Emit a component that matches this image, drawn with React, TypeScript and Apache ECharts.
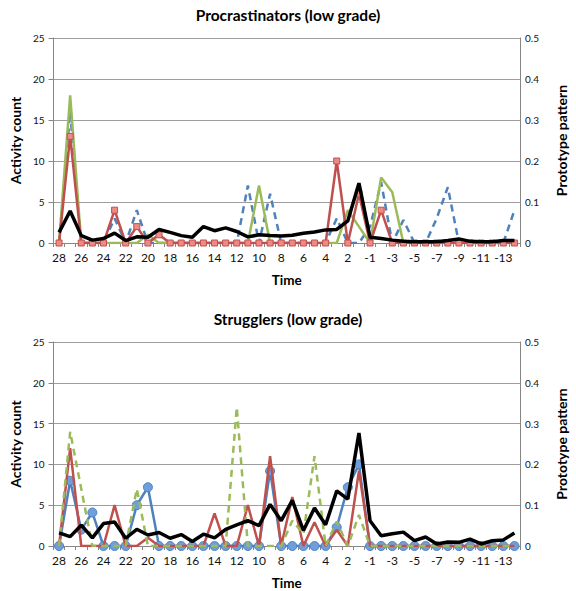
import React, { useEffect, useRef } from "react";
import * as echarts from "echarts";

const categories: string[] = [
  "28","27","26","25","24","23","22","21","20","19","18","17","16","15",
  "14","13","12","11","10","9","8","7","6","5","4","3","2","1",
  "-1","-2","-3","-4","-5","-6","-7","-8","-9","-10","-11","-12","-13","-14",
];

// Procrastinators (low grade)
const procRed = [0,13,0,0,0,4,0,2,0,1, 0,0,0,0,0,0,0,0,0,0, 0,0,0,0,0,10,0,6,0,4, 0,0,0,0,0,0,0,0,0,0, 0,0];
const procBlue = [0,16,0,0,0,3,0,4,0,0, 0,0,0,0,0,0,0,7,0,6, 0,0,0,0,0,3,0,0,2,7.4, 0,2.8,0,0,3,6.8,0,0,0,0, 0,4];
const procGreen = [0,18,0,0,0,0,0,0,1,0, 0,0,0,0,0,0,0,0,7,0, 0,0,0,0,0,0,4,2,0,8, 6.2,0,0,0,0,0,0,0,0,0, 0,0];
const procProto = [0.026,0.078,0.018,0.007,0.011,0.024,0.006,0.015,0.014,0.033, 0.026,0.018,0.014,0.040,0.030,0.037,0.028,0.015,0.020,0.018, 0.017,0.019,0.024,0.027,0.032,0.033,0.054,0.146,0.014,0.011, 0.007,0.004,0.003,0.003,0.003,0.006,0.010,0.004,0.003,0.003, 0.006,0.006];

// Strugglers (low grade)
const strugBlue = [0,8,2,4.1,0,0,0,5,7.2,0, 0,0,0,0,0,0,0,0,0,9.2, 0,0,0,0,0,2.3,7.2,10,0,0, 0,0,0,0,0,0,0,0,0,0, 0,0];
const strugRed = [0,12,0,0,0,5,0,0,1,0, 0,0,0,0,4,0,0,5,0,11, 0,6,0,2.9,0,2,0,9.2,0,0, 0,0,0,0,0,0,0,0,0,0, 0,0];
const strugGreen = [0,14,7,0,0,0,0,7,0,0, 0,0,0,0,0,0,17,0,0,0, 0,3.1,1.5,11,0,3,0,3.8,0,0, 0,0,0,0,0,0,0,0,0,0, 0,0];
const strugProto = [0.032,0.023,0.051,0.020,0.055,0.059,0.019,0.041,0.027,0.033, 0.019,0.028,0.011,0.029,0.020,0.041,0.052,0.062,0.050,0.102, 0.062,0.112,0.038,0.093,0.052,0.135,0.115,0.277,0.062,0.025, 0.030,0.034,0.013,0.022,0.005,0.010,0.009,0.017,0.005,0.013, 0.015,0.032];

const titles = ["Procrastinators (low grade)", "Strugglers (low grade)"];
const leftTicks = { min: 0, max: 25, interval: 5 };
const rightTicks = { min: 0, max: 0.5, interval: 0.1 };

const FONT = "Lato";
const RED = "#C0504D";
const BLUE = "#4F81BD";
const GREEN = "#9BBB59";
const GRID_TOPS = [38, 342];

export default function App() {
  const ref = useRef<HTMLDivElement>(null);
  useEffect(() => {
    if (!ref.current) return;
    const chart = echarts.init(ref.current, undefined, { renderer: "svg" });
    const axisLineGray = "#868686";
    const xAxes = [0, 1].map((g) => ({
      gridIndex: g,
      type: "category",
      data: categories,
      boundaryGap: true,
      axisLine: { show: true, lineStyle: { color: axisLineGray, width: 1 } },
      axisTick: { show: true, interval: 0, length: 4, lineStyle: { color: axisLineGray } },
      axisLabel: { interval: 1, fontFamily: FONT, fontSize: 12, color: "#111", margin: 8 },
      name: "Time",
      nameLocation: "middle",
      nameGap: 30,
      nameTextStyle: { fontFamily: FONT, fontSize: 13.5, fontWeight: "bold", color: "#000" },
    }));
    const yAxes: any[] = [];
    [0, 1].forEach((g) => {
      yAxes.push({
        gridIndex: g,
        type: "value",
        position: "left",
        ...leftTicks,
        axisLine: { show: true, lineStyle: { color: axisLineGray } },
        axisTick: { show: true, length: 5, lineStyle: { color: axisLineGray } },
        splitLine: { show: true, lineStyle: { color: "#9E9E9E", width: 1 } },
        axisLabel: { fontFamily: FONT, fontSize: 10, color: "#111", margin: 9 },
        name: "Activity count",
        nameLocation: "middle",
        nameRotate: 90,
        nameGap: 31,
        nameTextStyle: { fontFamily: FONT, fontSize: 14, fontWeight: "bold", color: "#000" },
      });
      yAxes.push({
        gridIndex: g,
        type: "value",
        position: "right",
        ...rightTicks,
        axisLine: { show: true, lineStyle: { color: axisLineGray } },
        axisTick: { show: false },
        splitLine: { show: false },
        axisLabel: { fontFamily: FONT, fontSize: 10, color: "#111", margin: 5 },
        name: "Prototype pattern",
        nameLocation: "middle",
        nameRotate: 90,
        nameGap: 34,
        nameTextStyle: { fontFamily: FONT, fontSize: 14, fontWeight: "bold", color: "#000" },
      });
    });

    const dashed = [7, 5];
    const series: any[] = [
      // Procrastinators
      {
        type: "line", xAxisIndex: 0, yAxisIndex: 0, data: procBlue, symbol: "none",
        lineStyle: { color: BLUE, width: 2.5, type: dashed }, z: 2,
      },
      {
        type: "line", xAxisIndex: 0, yAxisIndex: 0, data: procGreen, symbol: "none",
        lineStyle: { color: GREEN, width: 2.5 }, z: 3,
      },
      {
        type: "line", xAxisIndex: 0, yAxisIndex: 0, data: procRed, symbol: "rect", symbolSize: 6,
        showAllSymbol: true,
        itemStyle: { color: "#EB8A86", borderColor: RED, borderWidth: 1 },
        lineStyle: { color: RED, width: 2.5 }, z: 4,
      },
      {
        type: "line", xAxisIndex: 0, yAxisIndex: 1, data: procProto, symbol: "none",
        lineStyle: { color: "#000", width: 3.5 }, z: 5,
      },
      // Strugglers
      {
        type: "line", xAxisIndex: 1, yAxisIndex: 2, data: strugBlue, symbol: "circle", symbolSize: 9,
        showAllSymbol: true,
        itemStyle: { color: "#6E9FDB", borderColor: BLUE, borderWidth: 1 },
        lineStyle: { color: BLUE, width: 2.5 }, z: 2,
      },
      {
        type: "line", xAxisIndex: 1, yAxisIndex: 2, data: strugRed, symbol: "none",
        lineStyle: { color: RED, width: 2.5 }, z: 3,
      },
      {
        type: "line", xAxisIndex: 1, yAxisIndex: 2, data: strugGreen, symbol: "none",
        lineStyle: { color: GREEN, width: 2.5, type: dashed }, z: 4,
      },
      {
        type: "line", xAxisIndex: 1, yAxisIndex: 3, data: strugProto, symbol: "none",
        lineStyle: { color: "#000", width: 3.5 }, z: 5,
      },
    ];

    chart.setOption({
      animation: false,
      backgroundColor: "#fff",
      title: titles.map((t, i) => ({
        text: t,
        left: "center",
        top: GRID_TOPS[i] - 36,
        textStyle: { fontFamily: FONT, fontSize: 15.5, fontWeight: "bold", color: "#000" },
      })),
      grid: GRID_TOPS.map((top) => ({ left: 47.5, width: 488, top, height: 205 })),
      xAxis: xAxes,
      yAxis: yAxes,
      series,
    });
    return () => chart.dispose();
  }, []);
  return (
    <div
      ref={ref}
      style={{ position: "fixed", left: 0, top: 0, width: 576, height: 591 }}
    />
  );
}
